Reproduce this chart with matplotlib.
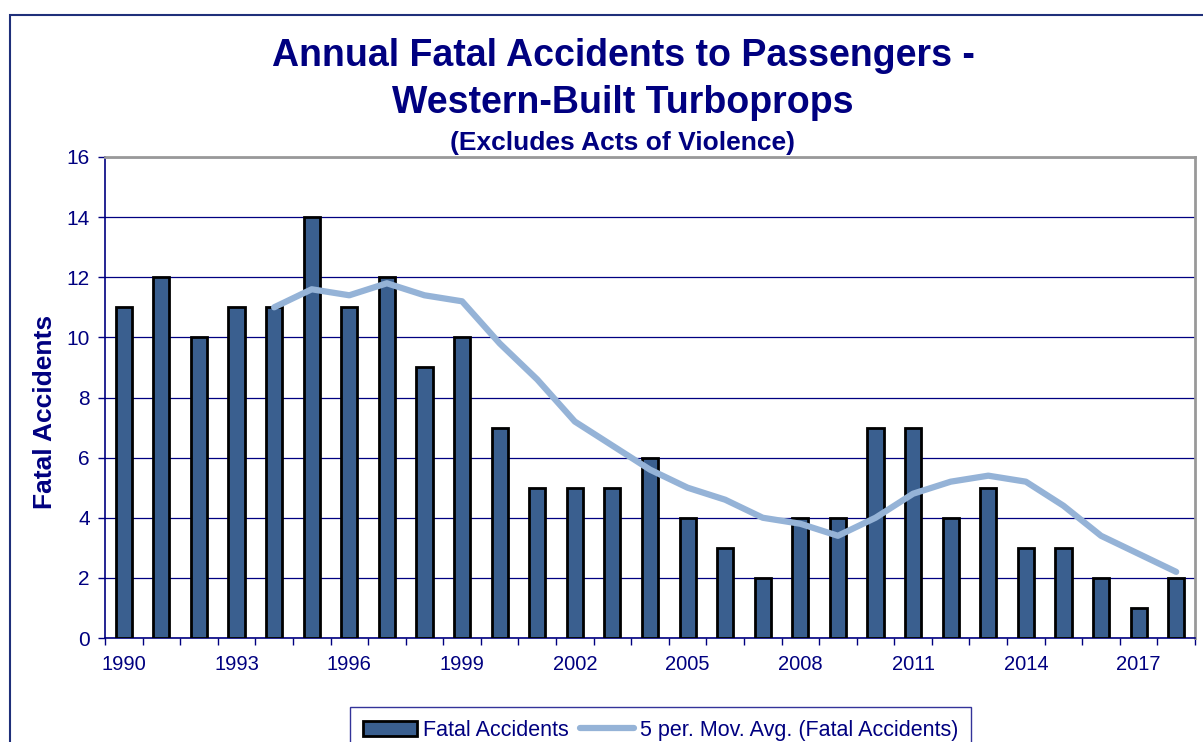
import matplotlib
matplotlib.use("Agg")
import matplotlib.pyplot as plt
from matplotlib.patches import Rectangle
import numpy as np

years = list(range(1990, 2019))
fatal_accidents = [11, 12, 10, 11, 11, 14, 11, 12, 9, 10, 7, 5, 5, 5, 6, 4, 3, 2, 4, 4, 7, 7, 4, 5, 3, 3, 2, 1, 2]
mov_avg_years = list(range(1994, 2019))
mov_avg = [11.0, 11.6, 11.4, 11.8, 11.4, 11.2, 9.8, 8.6, 7.2, 6.4, 5.6, 5.0, 4.6, 4.0, 3.8, 3.4, 4.0, 4.8, 5.2, 5.4, 5.2, 4.4, 3.4, 2.8, 2.2]
tick_years = list(range(1990, 2019, 3))

navy = "#000080"
bar_col = "#3A5F8F"
line_col = "#95B3D7"

plt.rcParams['font.family'] = ['Liberation Sans', 'DejaVu Sans']

fig = plt.figure(figsize=(12.03, 7.42), dpi=100)
fig.patch.set_facecolor("white")
ax = fig.add_axes([105/1203, 1-638/742, 1090/1203, (638-157)/742])

x = np.array(years)
bars = ax.bar(x, fatal_accidents, width=0.43, color=bar_col, edgecolor="black", linewidth=2, zorder=3,
              label="Fatal Accidents")
line, = ax.plot(mov_avg_years, mov_avg, color=line_col, linewidth=4.5, solid_capstyle="round", zorder=4,
                label="5 per. Mov. Avg. (Fatal Accidents)")

ax.set_xlim(years[0]-0.5, years[-1]+0.5)
ax.set_ylim(0, 16)
ax.set_yticks(range(0, 17, 2))
ax.yaxis.grid(True, color=navy, linewidth=0.9, zorder=1)
ax.set_axisbelow(True)

# x ticks at category boundaries, labels at selected years
ax.set_xticks(np.arange(years[0]-0.5, years[-1]+1.0, 1.0))
ax.set_xticklabels([])
ax.set_xticks(tick_years, minor=True)
ax.set_xticklabels([str(y) for y in tick_years], minor=True)
ax.tick_params(axis="x", which="major", direction="out", length=5, color=navy, width=1)
ax.tick_params(axis="x", which="minor", length=0, pad=12, labelsize=14.5, labelcolor=navy)
ax.tick_params(axis="y", direction="out", length=5, color=navy, width=1, labelsize=15, labelcolor=navy, pad=6)

for s in ["left", "bottom"]:
    ax.spines[s].set_color(navy)
    ax.spines[s].set_linewidth(1.2)
for s in ["top", "right"]:
    ax.spines[s].set_color("#999999")
    ax.spines[s].set_linewidth(2)

ax.set_ylabel("Fatal Accidents", fontsize=19, fontweight="bold", color=navy)
ax.yaxis.set_label_coords((57-105)/1090, (638-412)/(638-157))

fig.text(623/1203, 1-56/742, "Annual Fatal Accidents to Passengers -", ha="center", va="center",
         fontsize=27, fontweight="bold", color=navy)
fig.text(623/1203, 1-103/742, "Western-Built Turboprops", ha="center", va="center",
         fontsize=27, fontweight="bold", color=navy)
fig.text(623/1203, 1-143/742, "(Excludes Acts of Violence)", ha="center", va="center",
         fontsize=19, fontweight="bold", color=navy)

# outer chart border
fig.patches.append(Rectangle((10/1203, -0.1), 1.2, (742-15)/742 + 0.1, transform=fig.transFigure,
                             fill=False, edgecolor="#1F2F7A", linewidth=1.5))

leg = fig.legend([bars, line], [bars.get_label(), line.get_label()], loc="upper left",
                 bbox_to_anchor=(350/1203, 1-707/742), borderaxespad=0, ncol=2,
                 frameon=True, fancybox=False, fontsize=15.5, handlelength=2.5, handletextpad=0.3,
                 columnspacing=0.5, borderpad=0.6, labelcolor=navy)
leg.get_frame().set_edgecolor(navy)
leg.get_frame().set_linewidth(1)

fig.savefig("out.png", dpi=100)
